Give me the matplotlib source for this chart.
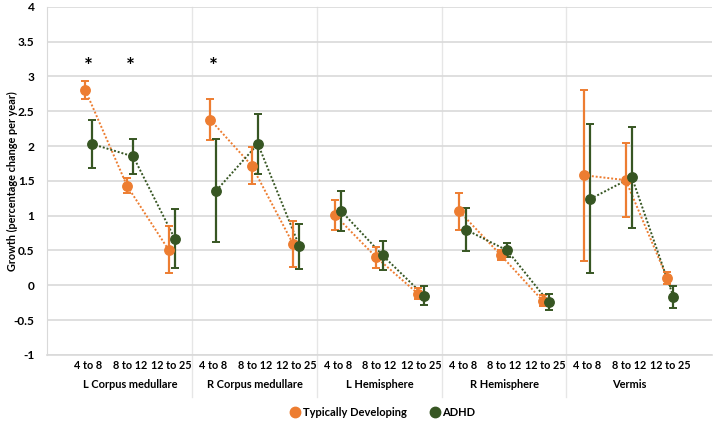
import numpy as np
import matplotlib.pyplot as plt
from matplotlib.lines import Line2D

# cerebellar regions and age bins (x axis)
regions = ["L Corpus medullare", "R Corpus medullare", "L Hemisphere", "R Hemisphere", "Vermis"]
age_bins = ["4 to 8", "8 to 12", "12 to 25"]

# growth (percentage change per year)
td_mean = [2.80, 1.43, 0.51, 2.38, 1.72, 0.59, 1.01, 0.40, -0.12, 1.06, 0.43, -0.22, 1.58, 1.51, 0.10]
td_err = [0.13, 0.11, 0.34, 0.30, 0.26, 0.33, 0.21, 0.145, 0.08, 0.26, 0.07, 0.075, 1.23, 0.53, 0.085]
adhd_mean = [2.03, 1.85, 0.67, 1.36, 2.03, 0.56, 1.07, 0.43, -0.15, 0.80, 0.50, -0.245, 1.24, 1.55, -0.17]
adhd_err = [0.34, 0.25, 0.42, 0.74, 0.43, 0.32, 0.29, 0.21, 0.14, 0.31, 0.10, 0.115, 1.07, 0.73, 0.16]

# categories with a significant group difference
significant = [0, 1, 3]

orange = "#ED7D31"
green = "#375623"
grid_col = "#D9D9D9"

plt.rcParams["font.family"] = ["Lato", "DejaVu Sans"]
plt.rcParams["font.weight"] = "bold"

fig = plt.figure(figsize=(7.15, 4.22), dpi=100)
ax = fig.add_axes([0.0657, 0.159, 0.93, 0.825])

n_bins = len(age_bins)
x = np.arange(len(regions) * n_bins, dtype=float)
offset = 0.075

for mean, err, col, dx in [(td_mean, td_err, orange, -offset), (adhd_mean, adhd_err, green, offset)]:
    xs = x + dx
    # dotted lines only within a region
    for r in range(len(regions)):
        sl = slice(r * n_bins, (r + 1) * n_bins)
        ax.plot(xs[sl], mean[sl], linestyle=(0, (1, 1)), color=col, lw=1.4, zorder=2)
    ax.errorbar(xs, mean, yerr=err, fmt="o", color=col, ecolor=col, ms=6.8,
                elinewidth=1.6, capsize=2.6, capthick=1.4, zorder=3)

for i in significant:
    ax.text(x[i], 3.13, "*", ha="center", va="center", fontsize=15, color="black")

ax.set_ylim(-1, 4)
ax.set_xlim(-1.0, 15.0)
yt = np.arange(-1, 4.01, 0.5)
ax.set_yticks(yt)
ax.set_yticklabels([f"{v:g}" for v in yt], fontweight="bold")
ax.yaxis.grid(True, color=grid_col, lw=1.2)
ax.set_axisbelow(True)
ax.tick_params(axis="y", length=0, labelsize=8.6, pad=9)
ax.set_xticks(x)
ax.set_xticklabels(age_bins * len(regions), fontsize=7.8, fontweight="bold")
ax.tick_params(axis="x", length=0, pad=4)
for s in ["top", "right"]:
    ax.spines[s].set_visible(False)
ax.spines["left"].set_color(grid_col)
ax.spines["bottom"].set_color(grid_col)
ax.spines["bottom"].set_linewidth(1.2)

ax.set_ylabel("Growth (percentage change per year)", fontsize=7.8, fontweight="bold")
ax.yaxis.set_label_coords(-0.044, 0.5)

# region separators and names
for r in range(1, len(regions)):
    ax.axvline(r * n_bins - 0.5, ymin=-0.12, ymax=1, color="#E6E6E6", lw=1.0, clip_on=False, zorder=0)
for r, name in enumerate(regions):
    ax.text(r * n_bins + 1, -0.086, name, transform=ax.get_xaxis_transform(),
            ha="center", va="center", fontsize=7.9, fontweight="bold")

handles = [Line2D([], [], marker="o", ls="", color=orange, ms=7.5, label="Typically Developing"),
           Line2D([], [], marker="o", ls="", color=green, ms=7.5, label="ADHD")]
fig.legend(handles=handles, loc="center", bbox_to_anchor=(0.531, 0.022), ncol=2, frameon=False,
           handletextpad=-0.3, columnspacing=1.5, prop={"weight": "bold", "size": 8.0})

fig.savefig("out.png", dpi=100)
